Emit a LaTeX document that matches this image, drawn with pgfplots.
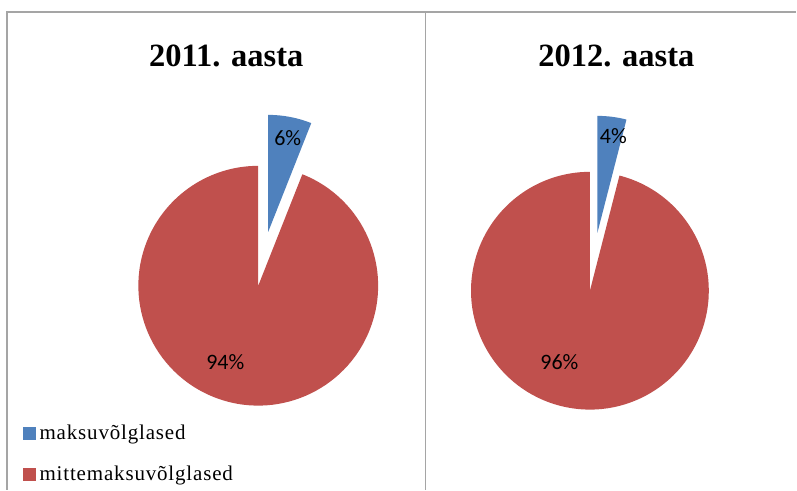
\documentclass[border=0pt]{standalone}
\usepackage{fontspec}
\setmainfont{Liberation Serif}
\newfontfamily\labelfont{Carlito}
\usepackage{pgfplots}
\usepackage{pgfplotstable}
\pgfplotsset{compat=1.18}
\definecolor{pieblue}{HTML}{4F81BD}
\definecolor{piered}{HTML}{C0504D}
\definecolor{framegray}{RGB}{165,165,165}

\pgfplotstableread{
series y2011 y2012
maksuvolglased 6 4
mittemaksuvolglased 94 96
}\piedata
\pgfplotstablegetelem{0}{y2011}\of\piedata \edef\Aa{\pgfplotsretval}
\pgfplotstablegetelem{1}{y2011}\of\piedata \edef\Ab{\pgfplotsretval}
\pgfplotstablegetelem{0}{y2012}\of\piedata \edef\Ba{\pgfplotsretval}
\pgfplotstablegetelem{1}{y2012}\of\piedata \edef\Bb{\pgfplotsretval}

\begin{document}
\begin{tikzpicture}
\begin{axis}[
  x=1pt, y=1pt,
  xmin=0, xmax=797, ymin=0, ymax=490,
  hide axis, clip=false, enlargelimits=false,
  legend image code/.code={\fill[#1] (0pt,-6pt) rectangle (12pt,6pt); \path (14pt,0pt);},
  legend style={at={(axis cs:23,67)}, anchor=north west, draw=none, fill=none,
    font=\fontsize{21}{25}\selectfont\addfontfeature{LetterSpace=4},
    cells={anchor=west}, row sep=21pt, inner sep=0pt},
]
\addlegendimage{pieblue}
\addlegendentry{maksuvõlglased}
\addlegendimage{piered}
\addlegendentry{mittemaksuvõlglased}

% background & frame
\fill[white] (axis cs:0,0) rectangle (axis cs:797,490);
\draw[framegray, line width=1.6pt] (axis cs:7,0) -- (axis cs:7,478) -- (axis cs:797,478);
\draw[framegray, line width=1.6pt] (axis cs:426,0) -- (axis cs:426,478);

% 2011 pie
\fill[piered] (axis cs:258.5,204) -- ++({90-3.6*\Aa}:120pt)
  arc[start angle={90-3.6*\Aa}, end angle=-270, radius=120pt] -- cycle;
\fill[pieblue] (axis cs:268.5,258) -- ++(90:117pt)
  arc[start angle=90, end angle={90-3.6*\Aa}, radius=117pt] -- cycle;

% 2012 pie
\fill[piered] (axis cs:590.5,199) -- ++({90-3.6*\Ba}:119pt)
  arc[start angle={90-3.6*\Ba}, end angle=-270, radius=119pt] -- cycle;
\fill[pieblue] (axis cs:598,257) -- ++(90:117pt)
  arc[start angle=90, end angle={90-3.6*\Ba}, radius=117pt] -- cycle;

% labels
\node[font=\labelfont\fontsize{22}{26}\selectfont] at (axis cs:288,352) {\Aa\%};
\node[font=\labelfont\fontsize{22}{26}\selectfont] at (axis cs:225.5,128) {\Ab\%};
\node[font=\labelfont\fontsize{22}{26}\selectfont] at (axis cs:614,354) {\Ba\%};
\node[font=\labelfont\fontsize{22}{26}\selectfont] at (axis cs:560,128) {\Bb\%};

% titles
\node[font=\bfseries\fontsize{32.5}{38}\selectfont, anchor=base] at (axis cs:226.5,423) {2011. aasta};
\node[font=\bfseries\fontsize{32.5}{38}\selectfont, anchor=base] at (axis cs:617,423) {2012. aasta};
\end{axis}
\end{tikzpicture}
\end{document}
